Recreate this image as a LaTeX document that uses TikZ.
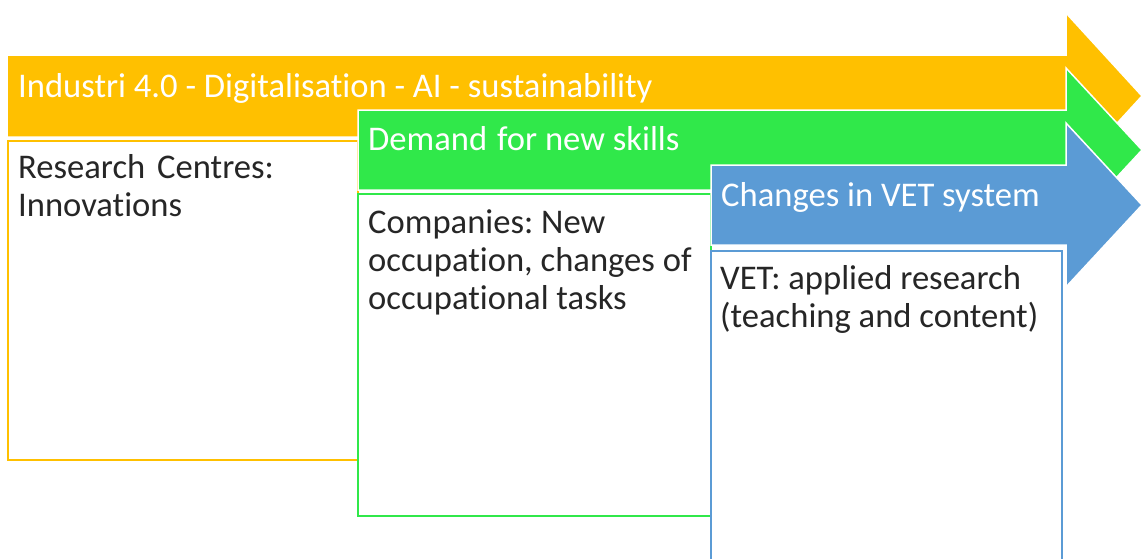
\documentclass[tikz,border=0pt]{standalone}
\usepackage{fontspec}
\setmainfont{Carlito}[Ligatures=NoCommon]
\definecolor{orng}{HTML}{FFC000}
\definecolor{grn}{HTML}{30E84A}
\definecolor{blu}{HTML}{5B9BD5}
\definecolor{txt}{HTML}{262626}
\frenchspacing
\begin{document}
\begin{tikzpicture}[x=1pt,y=-1pt,
  bigarrow/.style={fill=#1, draw=white, line width=1.5pt, line join=miter},
  cardbox/.style={fill=white, draw=#1, line width=1.5pt},
  titletext/.style={anchor=base west, inner sep=0pt, text=white, font=\fontsize{34.6}{38}\selectfont},
  bodytext/.style={anchor=base west, inner sep=0pt, text=txt, font=\fontsize{34.6}{38}\selectfont}]
\useasboundingbox (0,0) rectangle (1142,558);
\clip (0,0) rectangle (1142,558);
% orange level
\draw[cardbox=orng] (8,141) rectangle (358,460);
\draw[bigarrow=orng] (7,55) -- (1066,55) -- (1066,13) -- (1142,96) -- (1066,179) -- (1066,137) -- (7,137) -- cycle;
\node[titletext] (t1) at (18,97) {Industri 4.0 - Digitalisation - AI - sustainability};
\node[bodytext] (rc1) at (18,178) {Research\hspace{4pt} Centres:};
\node[bodytext] (rc2) at (18,216) {Innovations};
% green level
\draw[cardbox=grn] (358,194) rectangle (711,516);
\draw[bigarrow=grn] (358,110) -- (1066,110) -- (1066,68) -- (1142,150) -- (1066,232) -- (1066,190) -- (358,190) -- cycle;
\node[titletext] (t2) at (368,150) {Demand\hspace{2pt} for new skills};
\node[bodytext] (co1) at (368,233) {Companies: New};
\node[bodytext] (co2) at (368,271) {occupation, changes of};
\node[bodytext] (co3) at (368,309) {occupational tasks};
% blue level
\draw[cardbox=blu] (711,251) rectangle (1062,600);
\draw[bigarrow=blu] (711,165) -- (1066,165) -- (1066,123) -- (1142,205) -- (1066,287) -- (1066,245) -- (711,245) -- cycle;
\node[titletext] (t3) at (721,206) {Changes in VET system};
\node[bodytext] (ve1) at (720,289) {VET: applied research};
\node[bodytext] (ve2) at (720,327) {(teaching and content)};
\end{tikzpicture}
\end{document}
